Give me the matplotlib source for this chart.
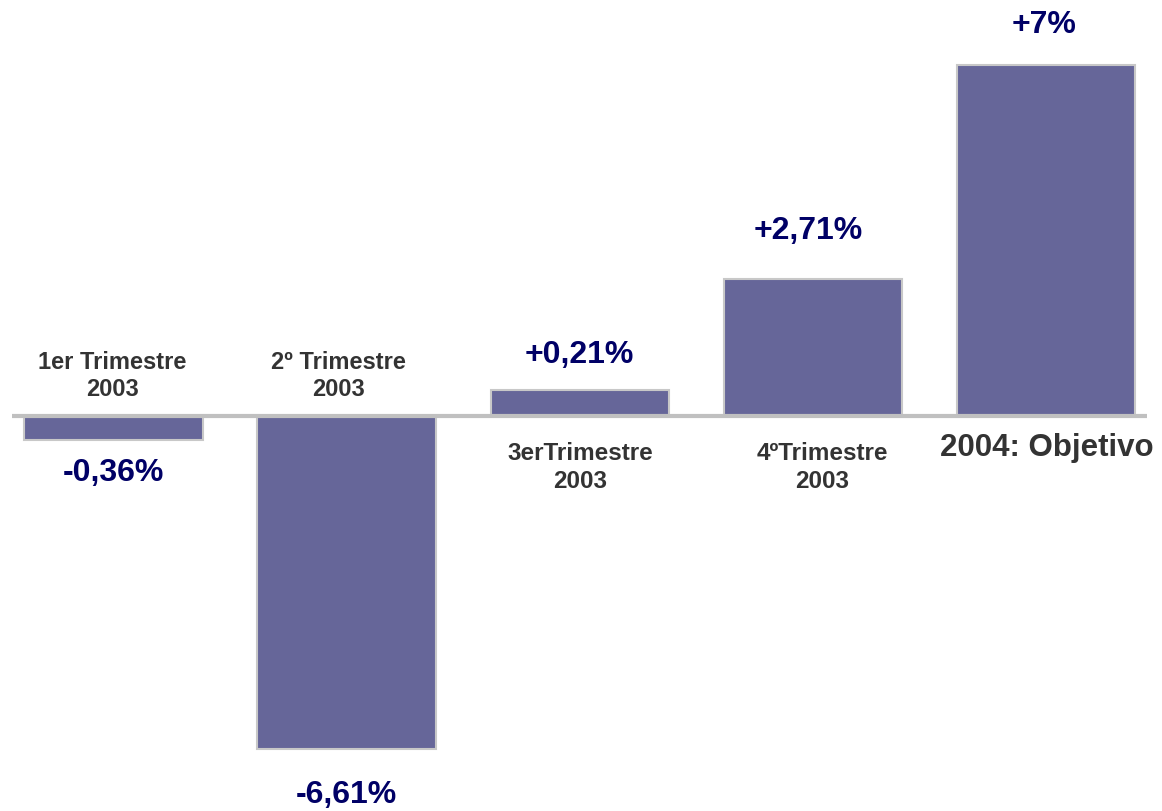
import matplotlib
matplotlib.use("Agg")
import matplotlib.pyplot as plt

# Data
categories = ["1er Trimestre\n2003", "2º Trimestre\n2003", "3erTrimestre\n2003",
              "4ºTrimestre\n2003", "2004: Objetivo"]
value_labels = ["-0,36%", "-6,61%", "+0,21%", "+2,71%", "+7%"]
bar_heights = [-0.48, -6.62, 0.52, 2.72, 6.98]  # as drawn in the picture

BAR = "#666699"
EDGE = "#c8c8c8"
NAVY = "#000066"
GRAY = "#333333"

fig = plt.figure(figsize=(11.62, 8.11), dpi=100)
ax = fig.add_axes([0, 0, 1, 1])
ax.set_xlim(-0.487, 4.498)
ax.set_ylim(-7.85, 8.27)
ax.axis("off")

x = list(range(len(categories)))
ax.bar(x, bar_heights, width=0.765, color=BAR, edgecolor=EDGE, linewidth=1.5, zorder=2)
ax.plot([-0.435, 4.435], [0, 0], color="#c0c0c0", lw=3, solid_capstyle="butt", zorder=3)

reg = ["Liberation Sans", "DejaVu Sans"]

# value labels
val_y = [-1.13, -7.53, 1.22, 3.68, 7.78]
val_dx = [0, 0, 0, -0.02, -0.01]
for i, (t, yy) in enumerate(zip(value_labels, val_y)):
    ax.text(i + val_dx[i], yy, t, ha="center", va="center", fontsize=23,
            fontweight="bold", color=NAVY, family=reg)

# category labels
ax.text(-0.005, 0.80, categories[0], ha="center", va="center", fontsize=17,
        fontweight="bold", color=GRAY, family=reg, linespacing=1.21)
ax.text(0.965, 0.80, categories[1], ha="center", va="center", fontsize=17,
        fontweight="bold", color=GRAY, family=reg, linespacing=1.21)
ax.text(2.003, -1.02, categories[2], ha="center", va="center", fontsize=17.5,
        fontweight="bold", color=GRAY, family=reg, linespacing=1.3)
ax.text(3.04, -1.02, categories[3], ha="center", va="center", fontsize=17.5,
        fontweight="bold", color=GRAY, family=reg, linespacing=1.3)
ax.text(4.002, -0.64, categories[4], ha="center", va="center", fontsize=22.5,
        fontweight="bold", color=GRAY, family=reg)

fig.savefig("out.png", dpi=100)
